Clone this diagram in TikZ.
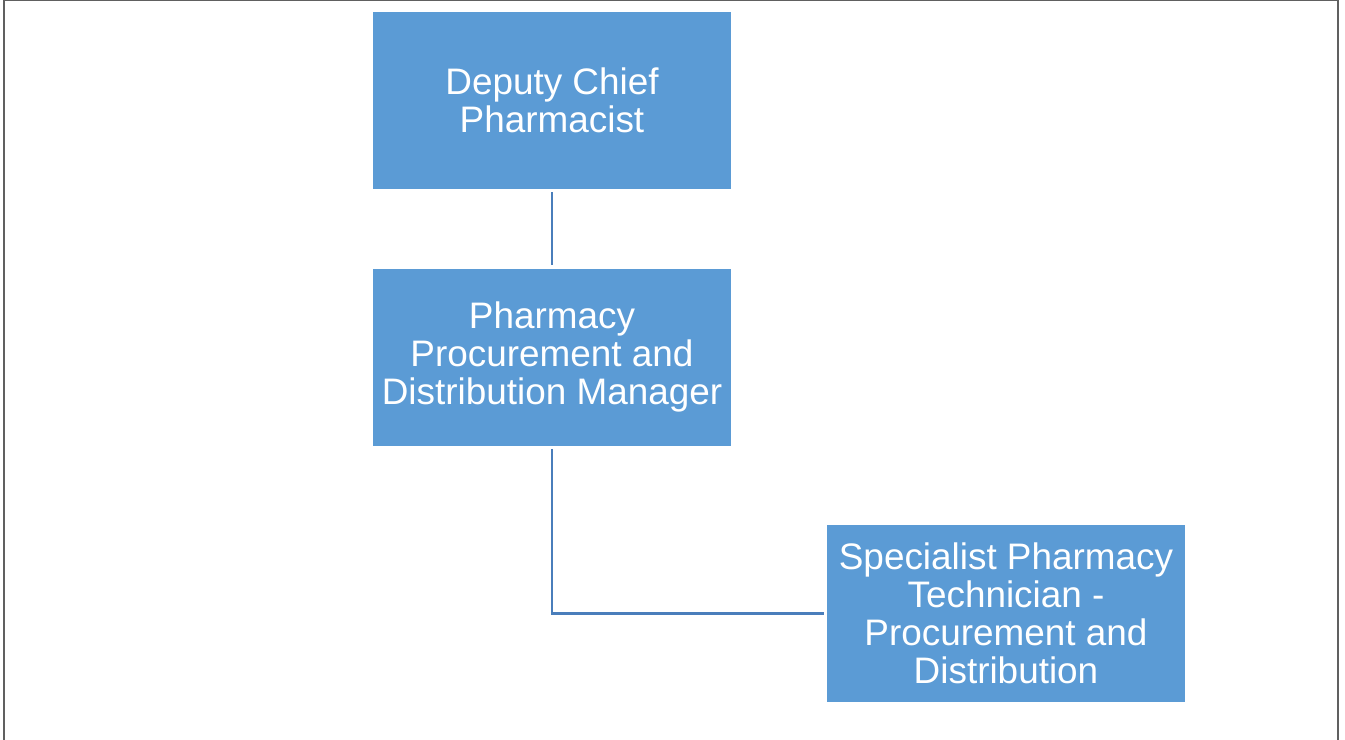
\documentclass[tikz,border=0pt]{standalone}
\usepackage{fontspec}
\setmainfont{Liberation Sans}
\usepackage{tikz}

\definecolor{boxblue}{HTML}{5B9BD5}
\definecolor{lineblue}{HTML}{4A7EBB}
\definecolor{framegray}{HTML}{606060}

\begin{document}
\begin{tikzpicture}[x=0.02cm, y=-0.02cm, every node/.style={rectangle, fill=boxblue, text=white, minimum width=358*0.02cm, minimum height=177*0.02cm, align=center, font=\fontsize{21}{21.6}\selectfont, inner sep=0pt}, link/.style={draw=lineblue, line width=1.4pt}]
			\useasboundingbox (0,0) rectangle (1345,740);
			\draw[framegray, line width=1pt] (4,740) -- (4,0.5) -- (1338,0.5) -- (1338,740);
			
			\node (chief) at (552,100.5){Deputy Chief\\Pharmacist};
			\node (manager) at (552,357){Pharmacy\\Procurement and\\Distribution Manager};
			\node (technician) at (1006,613.5){Specialist Pharmacy\\Technician -\\Procurement and\\Distribution};
			
			\path[link] ([yshift=-3*0.02cm]chief.south) edge ([yshift=3*0.02cm]manager.north);
			\path[link] ([yshift=-3*0.02cm]manager.south) |- ([xshift=-3*0.02cm]technician.west);
			\end{tikzpicture}
\end{document}
